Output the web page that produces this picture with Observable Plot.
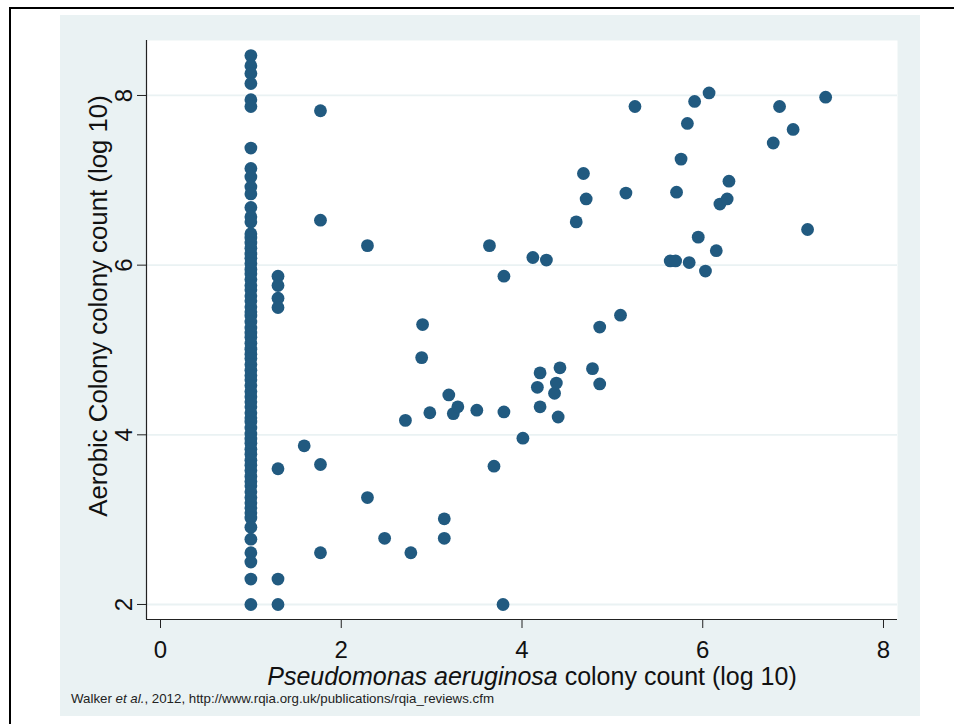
<!DOCTYPE html>
<html><head><meta charset="utf-8">
<script src="https://cdn.jsdelivr.net/npm/d3@7"></script>
<script src="https://cdn.jsdelivr.net/npm/@observablehq/plot@0.6"></script>
<style>
body{margin:0;background:#fff;font-family:"Liberation Sans",Arial,sans-serif;}
#wrap{position:relative;width:954px;height:724px;overflow:hidden;background:#fff;}
#border{position:absolute;left:9px;top:7px;right:-10px;bottom:-10px;border-top:2px solid #000;border-left:2px solid #000;}
#panel{position:absolute;left:60px;top:15px;width:860px;height:701px;background:#EAF2F3;}
#chart{position:absolute;left:60px;top:15px;}
#caption{position:absolute;left:71px;top:691px;font-size:13.3px;color:#222;white-space:nowrap;}
</style></head>
<body><div id="wrap"><div id="border"></div><div id="panel"></div><div id="chart"></div>
<div id="caption">Walker <i>et al.</i>, 2012, http://www.rqia.org.uk/publications/rqia_reviews.cfm</div></div>
<script>
// Column of samples with P. aeruginosa count = 1 (log10)
const col1X = 1.0;
const col1Y = [8.47, 8.35, 8.26, 8.14, 7.95, 7.87, 7.38, 7.14, 7.04, 6.92, 6.84, 6.68, 6.57, 6.51,
  6.37, 6.32, 6.26, 6.2, 6.13, 6.08, 6.02, 5.95, 5.9, 5.83, 5.76, 5.71, 5.64, 5.58, 5.51, 5.45,
  5.4, 5.33, 5.26, 5.2, 5.15, 5.08, 5.01, 4.95, 4.9, 4.83, 4.76, 4.7, 4.65, 4.58, 4.51, 4.45,
  4.39, 4.33, 4.26, 4.2, 4.15, 4.08, 4.01, 3.95, 3.9, 3.83, 3.77, 3.7, 3.64, 3.58, 3.51, 3.45,
  3.4, 3.33, 3.26, 3.2, 3.14, 3.08, 3.02, 2.91, 2.77, 2.61, 2.5, 2.3, 2.0];
// Column at 1.30 (log10 20)
const col2X = 1.30;
const col2Y = [5.87, 5.76, 5.61, 5.5, 3.6, 2.3, 2.0];
// Remaining scattered samples
const scatterX = [1.77, 1.77, 1.77, 1.77, 1.59, 2.29, 2.29, 2.48, 2.71, 2.77, 2.89, 2.9, 2.98,
  3.14, 3.14, 3.19, 3.24, 3.29, 3.5, 3.64, 3.69, 3.8, 3.8, 3.79, 4.01, 4.12, 4.27, 4.17, 4.2, 4.2,
  4.36, 4.38, 4.4, 4.42, 4.6, 4.68, 4.71, 4.78, 4.86, 4.86, 5.09, 5.15, 5.25, 5.64, 5.7, 5.71,
  5.76, 5.83, 5.85, 5.91, 5.95, 6.03, 6.07, 6.15, 6.19, 6.27, 6.29, 6.78, 6.85, 7.0, 7.16, 7.36];
const scatterY = [7.82, 6.53, 3.65, 2.61, 3.87, 6.23, 3.26, 2.78, 4.17, 2.61, 4.91, 5.3, 4.26,
  3.01, 2.78, 4.47, 4.25, 4.33, 4.29, 6.23, 3.63, 5.87, 4.27, 2.0, 3.96, 6.09, 6.06, 4.56, 4.73, 4.33,
  4.49, 4.61, 4.21, 4.79, 6.51, 7.08, 6.78, 4.78, 5.27, 4.6, 5.41, 6.85, 7.87, 6.05, 6.05, 6.86,
  7.25, 7.67, 6.03, 7.93, 6.33, 5.93, 8.03, 6.17, 6.72, 6.78, 6.99, 7.44, 7.87, 7.6, 6.42, 7.98];
const xTicks = [0, 2, 4, 6, 8];
const yTicks = [2, 4, 6, 8];
const xTitleItalic = "Pseudomonas aeruginosa";
const xTitleRest = " colony count (log 10)";
const yTitle = "Aerobic Colony colony count (log 10)";

const pts = [
  ...col1Y.map(y => ({x: col1X, y})),
  ...col2Y.map(y => ({x: col2X, y})),
  ...scatterX.map((x, i) => ({x, y: scatterY[i]}))
];

const xDom = [-0.155, 8.155];
const yDom = [1.823, 8.648];
const font = "Liberation Sans, Arial, sans-serif";

const chart = Plot.plot({
  width: 860, height: 680,
  marginLeft: 86, marginRight: 23, marginTop: 25, marginBottom: 76,
  x: {domain: xDom}, y: {domain: yDom},
  style: {background: "transparent", fontFamily: font, fontSize: "25px", color: "#111", overflow: "visible"},
  marks: [
    Plot.frame({fill: "white", stroke: "none"}),
    Plot.ruleY(yTicks, {stroke: "#EAF2F3", strokeWidth: 1.8}),
    Plot.axisY(yTicks, {tickSize: 9, tickFormat: () => "", label: null, stroke: "#222"}),
    Plot.axisX(xTicks, {tickSize: 9, tickFormat: () => "", label: null, stroke: "#222"}),
    Plot.ruleX([xDom[0]], {stroke: "#222", strokeWidth: 1.2}),
    Plot.ruleY([yDom[0]], {stroke: "#222", strokeWidth: 1.2}),
    Plot.text(yTicks, {y: d => d, text: d => String(d), frameAnchor: "left", dx: -22, rotate: -90,
      textAnchor: "middle", lineAnchor: "middle", fontSize: 24, fill: "#111"}),
    Plot.text(xTicks, {x: d => d, text: d => String(d), frameAnchor: "bottom", dy: 30.5,
      textAnchor: "middle", lineAnchor: "middle", fontSize: 24, fill: "#111"}),
    Plot.text([yTitle], {text: d => d, frameAnchor: "left", dx: -48, dy: -24, rotate: -90,
      textAnchor: "middle", lineAnchor: "middle", fontSize: 25.8, fill: "#111"}),
    Plot.dot(pts, {x: "x", y: "y", r: 6.4, fill: "#215A80"})
  ]
});
document.getElementById("chart").appendChild(chart);

// x-axis title with italic species name
const svg = d3.select(chart);
const t = svg.append("text")
  .attr("x", 472).attr("y", 670)
  .attr("text-anchor", "middle")
  .attr("font-size", 25).attr("fill", "#111")
  .attr("font-family", font);
t.append("tspan").attr("font-style", "italic").text(xTitleItalic);
t.append("tspan").text(xTitleRest);
</script>
</body></html>
